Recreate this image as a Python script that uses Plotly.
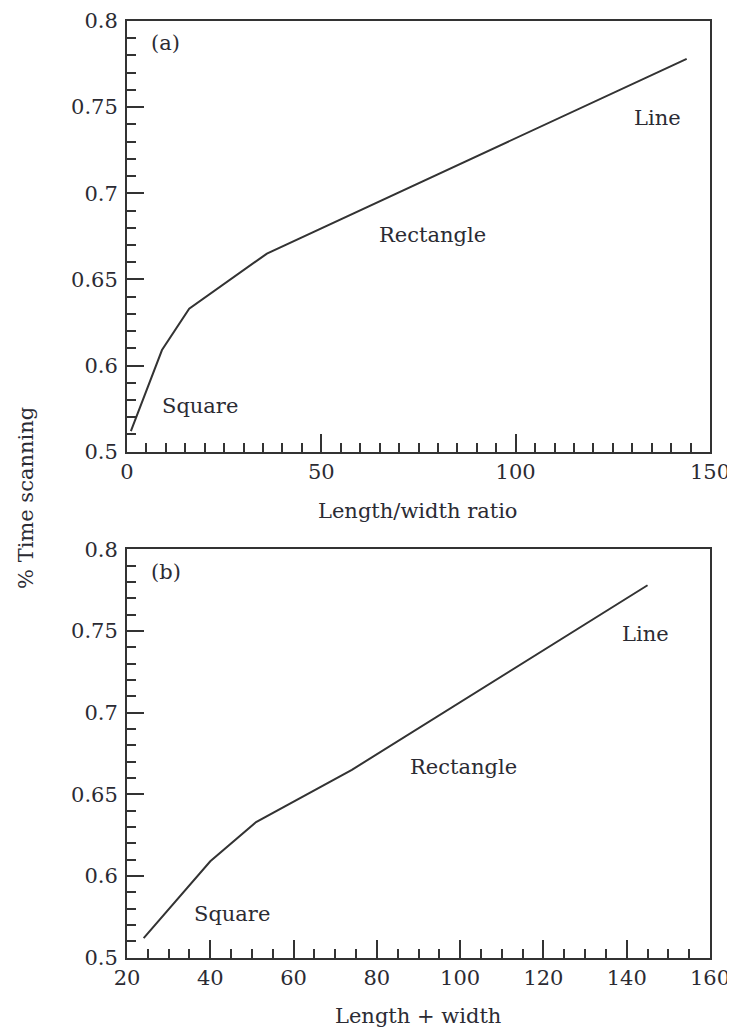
import plotly.graph_objects as go

# Data (rectangles of equal area: length/width ratio and length + width)
ratio_x = [1, 9, 16, 36, 144]
sum_x = [24, 40, 51, 74, 145]
time_scanning = [0.562, 0.609, 0.633, 0.665, 0.778]

y_tickvals = [0.55, 0.60, 0.65, 0.70, 0.75, 0.80]
y_ticktext = ["0.5", "0.6", "0.65", "0.7", "0.75", "0.8"]

OFF = 8  # page body margin
W, H = 735 - OFF, 1032 - OFF
FONT = "DejaVu Serif"
TXT = "#2b2b33"
AX = "#333333"
FS = 21

def px(p):  # screenshot x pixel -> paper fraction
    return (p - OFF) / W

def py(p):  # screenshot y pixel -> paper fraction
    return 1 - (p - OFF) / H

fig = go.Figure()
fig.add_trace(go.Scatter(x=ratio_x, y=time_scanning, mode="lines",
                         line=dict(color="#333333", width=2), xaxis="x", yaxis="y",
                         showlegend=False))
fig.add_trace(go.Scatter(x=sum_x, y=time_scanning, mode="lines",
                         line=dict(color="#333333", width=2), xaxis="x2", yaxis="y2",
                         showlegend=False))

def xax(rng, dtick, domain, anchor):
    return dict(range=rng, domain=domain, anchor=anchor, dtick=dtick, tick0=rng[0],
                ticks="inside", ticklen=18, tickwidth=2, tickcolor=AX,
                minor=dict(dtick=5, tick0=rng[0], ticks="inside", ticklen=9, tickwidth=2, tickcolor=AX),
                showline=True, linecolor=AX, linewidth=2, mirror=True,
                showgrid=False, zeroline=False, automargin=False,
                tickfont=dict(family=FONT, size=FS, color=TXT))

def yax(domain, anchor):
    return dict(range=[0.55, 0.8], domain=domain, anchor=anchor,
                tickmode="array", tickvals=y_tickvals, ticktext=y_ticktext,
                ticks="inside", ticklen=17, tickwidth=2, tickcolor=AX,
                minor=dict(tick0=0.55, dtick=0.01, ticks="inside", ticklen=9, tickwidth=2, tickcolor=AX),
                showline=True, linecolor=AX, linewidth=2, mirror=True,
                showgrid=False, zeroline=False, automargin=False,
                ticklabelstandoff=3,
                tickfont=dict(family=FONT, size=FS, color=TXT))

xd = [px(127), px(710)]
fig.update_layout(
    width=W, height=H,
    margin=dict(l=0, r=0, t=0, b=0),
    paper_bgcolor="white", plot_bgcolor="white",
    xaxis=xax([0, 150], 50, xd, "y"),
    yaxis=yax([py(451.7), py(21)], "x"),
    xaxis2=xax([20, 160], 20, xd, "y2"),
    yaxis2=yax([py(957.7), py(549.3)], "x2"),
    showlegend=False,
)

def note(text, x, y, xref, yref, size=FS, angle=0):
    fig.add_annotation(text=text, x=x, y=y, xref=xref, yref=yref, showarrow=False,
                       xanchor="center", yanchor="middle", textangle=angle,
                       font=dict(family=FONT, size=size, color=TXT))

note("(a)", 10.0, 0.787, "x", "y")
note("Square", 18.9, 0.5765, "x", "y")
note("Rectangle", 78.5, 0.6758, "x", "y")
note("Line", 136.4, 0.7435, "x", "y")

note("(b)", 29.4, 0.7863, "x2", "y2")
note("Square", 45.2, 0.5766, "x2", "y2")
note("Rectangle", 100.9, 0.6669, "x2", "y2")
note("Line", 144.6, 0.7481, "x2", "y2")

note("Length/width ratio", px(418), py(511), "paper", "paper")
note("Length + width", px(418), py(1016), "paper", "paper")
note("% Time scanning", px(26), py(498), "paper", "paper", angle=-90)

fig.write_html("out.html")
